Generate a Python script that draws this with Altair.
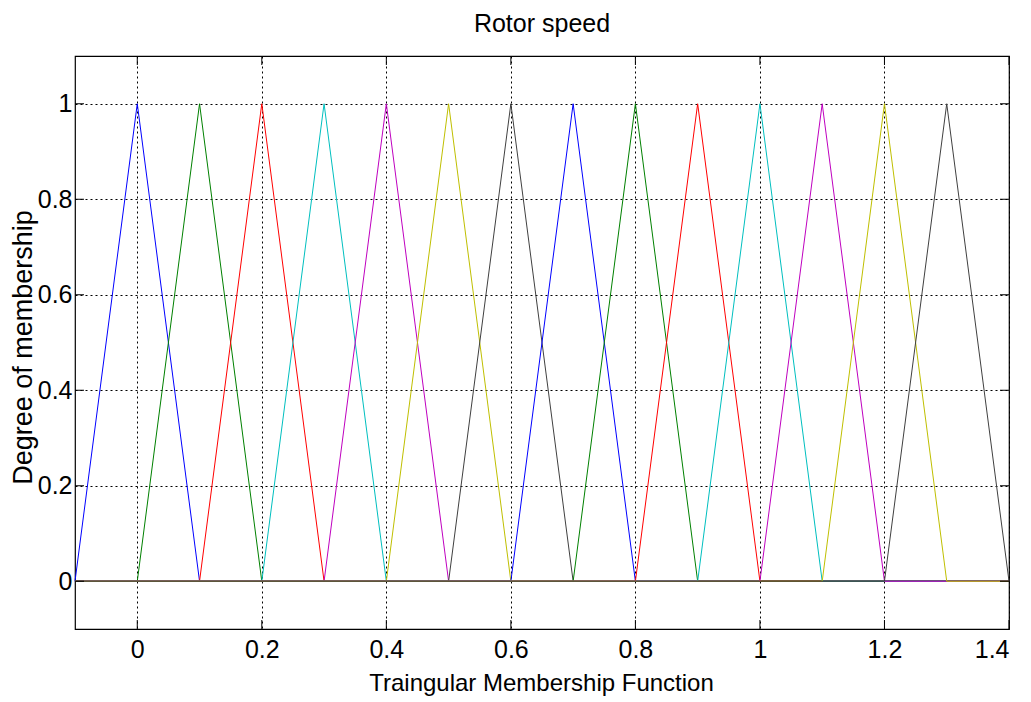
import altair as alt
import pandas as pd

# --- data -------------------------------------------------------------
names = [f"mf{i}" for i in range(1, 15)]
left_feet = [-0.1, 0.0, 0.1, 0.2, 0.3, 0.4, 0.5, 0.6, 0.7, 0.8, 0.9, 1.0, 1.1, 1.2]
peaks = [0.0, 0.1, 0.2, 0.3, 0.4, 0.5, 0.6, 0.7, 0.8, 0.9, 1.0, 1.1, 1.2, 1.3]
right_feet = [0.1, 0.2, 0.3, 0.4, 0.5, 0.6, 0.7, 0.8, 0.9, 1.0, 1.1, 1.2, 1.3, 1.4]
colors = ["#0000FF", "#008000", "#FF0000", "#00BFBF", "#BF00BF", "#BFBF00", "#404040",
          "#0000FF", "#008000", "#FF0000", "#00BFBF", "#BF00BF", "#BFBF00", "#404040"]
x_min, x_max = -0.1, 1.4
y_min, y_max = -0.1, 1.1
x_ticks = [0, 0.2, 0.4, 0.6, 0.8, 1.0, 1.2, 1.4]
y_ticks = [0, 0.2, 0.4, 0.6, 0.8, 1.0]

rows = []
for n, a, b, c in zip(names, left_feet, peaks, right_feet):
    pts = [(x_min, 0.0), (a, 0.0), (b, 1.0), (c, 0.0), (x_max, 0.0)]
    for k, (xv, yv) in enumerate(pts):
        rows.append({"series": n, "x": xv, "y": yv, "k": k})
df = pd.DataFrame(rows)

W, H = 934, 573
FONT = "Liberation Sans, Arial"
TL = 9  # inward tick length

xscale = alt.Scale(domain=[x_min, x_max], nice=False, zero=False)
yscale = alt.Scale(domain=[y_min, y_max], nice=False, zero=False)

lines = alt.Chart(df).mark_line(strokeWidth=1).encode(
    x=alt.X("x:Q", scale=xscale,
            axis=alt.Axis(values=x_ticks, format=".1~f", grid=True,
                          title="Traingular Membership Function",
                          titleX=W / 2 - 1, titleY=61,
                          titleBaseline="alphabetic", titleAnchor="middle",
                          labelPadding=8)),
    y=alt.Y("y:Q", scale=yscale,
            axis=alt.Axis(values=y_ticks, format=".1~f", grid=True,
                          title="Degree of membership",
                          titleX=-44, titleY=291, titleAngle=-90,
                          titleBaseline="alphabetic", titleAnchor="middle",
                          titleFontSize=27, labelPadding=3)),
    color=alt.Color("series:N", scale=alt.Scale(domain=names, range=colors), legend=None),
    order="k:Q",
)

xt = pd.DataFrame({"t": x_ticks})
yt = pd.DataFrame({"t": y_ticks})

tick_bottom = alt.Chart(xt).mark_rule(color="black", strokeWidth=1).encode(
    x=alt.X("t:Q", scale=xscale), y=alt.value(H), y2=alt.value(H - TL))
tick_top = alt.Chart(xt).mark_rule(color="black", strokeWidth=1).encode(
    x=alt.X("t:Q", scale=xscale), y=alt.value(0), y2=alt.value(TL))
tick_left = alt.Chart(yt).mark_rule(color="black", strokeWidth=1).encode(
    y=alt.Y("t:Q", scale=yscale), x=alt.value(0), x2=alt.value(TL))
tick_right = alt.Chart(yt).mark_rule(color="black", strokeWidth=1).encode(
    y=alt.Y("t:Q", scale=yscale), x=alt.value(W), x2=alt.value(W - TL))

chart = alt.layer(lines, tick_bottom, tick_top, tick_left, tick_right).properties(
    width=W, height=H,
    background="white",
    title=alt.TitleParams("Rotor speed", font=FONT, fontSize=25, fontWeight="normal",
                          anchor="middle", baseline="alphabetic", offset=23, dy=24,
                          frame="group", color="black"),
    autosize=alt.AutoSizeParams(type="none"),
    padding={"left": 75, "top": 56, "right": 22, "bottom": 73},
).configure_view(stroke="black", strokeWidth=1.2).configure_axis(
    domain=False, ticks=False,
    labelFont=FONT, labelFontSize=25, labelColor="black",
    titleFont=FONT, titleFontSize=24, titleFontWeight="normal", titleColor="black",
    gridColor="black", gridDash=[2, 3], gridOpacity=1, gridWidth=1,
)

chart.save("out.html", embed_options={"renderer": "svg", "actions": False})
